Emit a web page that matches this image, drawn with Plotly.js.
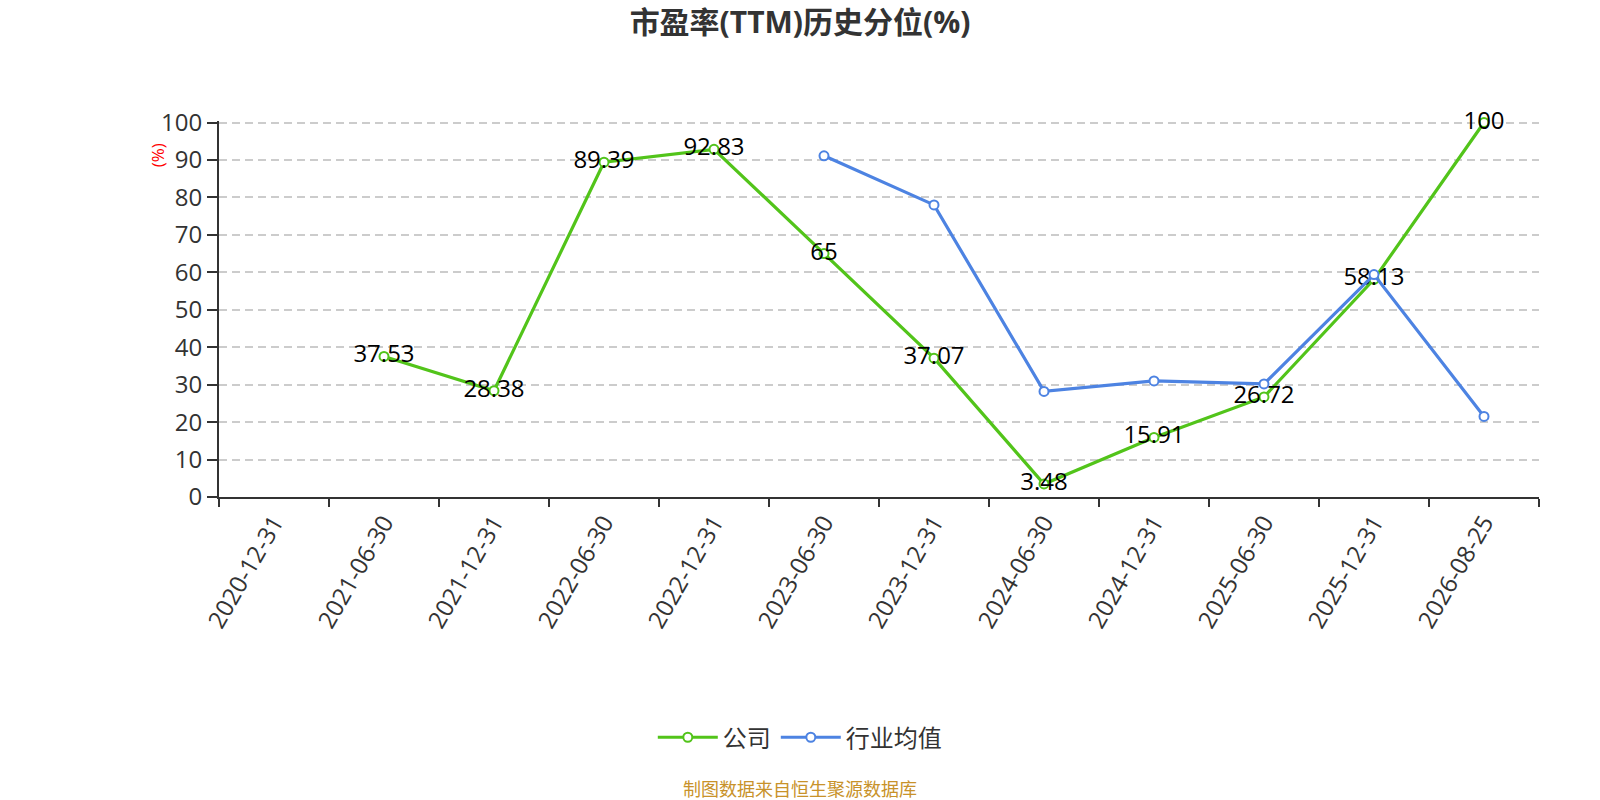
<!DOCTYPE html>
<html>
<head>
<meta charset="utf-8">
<script src="https://cdn.plot.ly/plotly-3.0.1.min.js"></script>
<style>
  html, body { margin: 0; padding: 0; background: #fff; }
  #chart { width: 1600px; height: 800px; }
</style>
</head>
<body>
<div id="chart"></div>
<script>
// report dates (category axis)
var dates = ['2020-12-31', '2021-06-30', '2021-12-31', '2022-06-30', '2022-12-31', '2023-06-30',
             '2023-12-31', '2024-06-30', '2024-12-31', '2025-06-30', '2025-12-31', '2026-08-25'];
// company PE(TTM) percentile
var company = [null, 37.53, 28.38, 89.39, 92.83, 65, 37.07, 3.48, 15.91, 26.72, 58.13, 100];
// industry average percentile
var industry = [null, null, null, null, null, 91.1, 78.0, 28.2, 31.0, 30.2, 59.4, 21.5];
var yTicks = [0, 10, 20, 30, 40, 50, 60, 70, 80, 90, 100];

var font_cn = '"Open Sans", "Noto Sans CJK SC", sans-serif';

var trace_company = {
  x: dates,
  y: company,
  type: 'scatter',
  mode: 'lines+markers+text',
  name: '公司',
  text: company.map(function(v) { return v === null ? '' : String(v); }),
  textposition: 'middle center',
  textfont: { size: 24, color: '#000', family: font_cn },
  cliponaxis: false,
  hoverinfo: 'none',
  line: { color: '#52c41a', width: 3.2 },
  marker: { symbol: 'circle', size: 9, color: '#fff', line: { color: '#52c41a', width: 2 } }
};
var trace_industry = {
  x: dates,
  y: industry,
  type: 'scatter',
  mode: 'lines+markers',
  name: '行业均值',
  cliponaxis: false,
  hoverinfo: 'none',
  line: { color: '#4d83e2', width: 3.2 },
  marker: { symbol: 'circle', size: 9, color: '#fff', line: { color: '#4d83e2', width: 2 } }
};

var layout = {
  width: 1600,
  height: 800,
  paper_bgcolor: '#fff',
  plot_bgcolor: '#fff',
  font: { family: font_cn, color: '#333' },
  margin: { l: 219, r: 61, t: 121, b: 303 },
  title: {
    text: '<b>市盈率(TTM)历史分位(%)</b>',
    x: 0.5, xref: 'container', xanchor: 'center',
    y: 0.972, yref: 'container', yanchor: 'middle',
    font: { size: 30, color: '#333', family: font_cn }
  },
  xaxis: {
    type: 'category',
    categoryorder: 'array',
    categoryarray: dates,
    range: [-0.5, dates.length - 0.5],
    tickson: 'boundaries',
    ticks: 'outside',
    ticklen: 8,
    tickwidth: 2,
    tickcolor: '#333',
    tickangle: -60,
    tickfont: { size: 24, color: '#333' },
    showline: true,
    linecolor: '#333',
    linewidth: 2,
    showgrid: false,
    zeroline: false,
    fixedrange: true
  },
  yaxis: {
    range: [0, 100.4],
    tickvals: yTicks,
    ticktext: yTicks.map(String),
    ticks: 'outside',
    ticklen: 10,
    tickwidth: 2,
    tickcolor: '#333',
    tickfont: { size: 24, color: '#333' },
    showline: true,
    linecolor: '#333',
    linewidth: 2,
    showgrid: true,
    gridcolor: '#cccccc',
    griddash: '8px,5px',
    gridwidth: 2,
    zeroline: false,
    fixedrange: true
  },
  showlegend: true,
  legend: {
    orientation: 'h',
    x: 0.44, xanchor: 'center',
    y: -0.64, yanchor: 'middle',
    font: { size: 24, color: '#333' },
    itemwidth: 60
  },
  annotations: [
    {
      // y axis unit
      text: '(%)',
      xref: 'paper', yref: 'paper',
      x: 0, y: 0.909,
      xanchor: 'center', yanchor: 'middle',
      xshift: -62,
      textangle: -90,
      showarrow: false,
      font: { size: 17, color: '#ff0000' }
    },
    {
      // data source
      text: '制图数据来自恒生聚源数据库',
      xref: 'paper', yref: 'paper',
      x: 0.5, y: -0.777,
      xanchor: 'center', yanchor: 'middle',
      xshift: -79,
      showarrow: false,
      font: { size: 18, color: '#c8922a' }
    }
  ]
};

Plotly.newPlot('chart', [trace_company, trace_industry], layout, { displayModeBar: false, staticPlot: true });
</script>
</body>
</html>
